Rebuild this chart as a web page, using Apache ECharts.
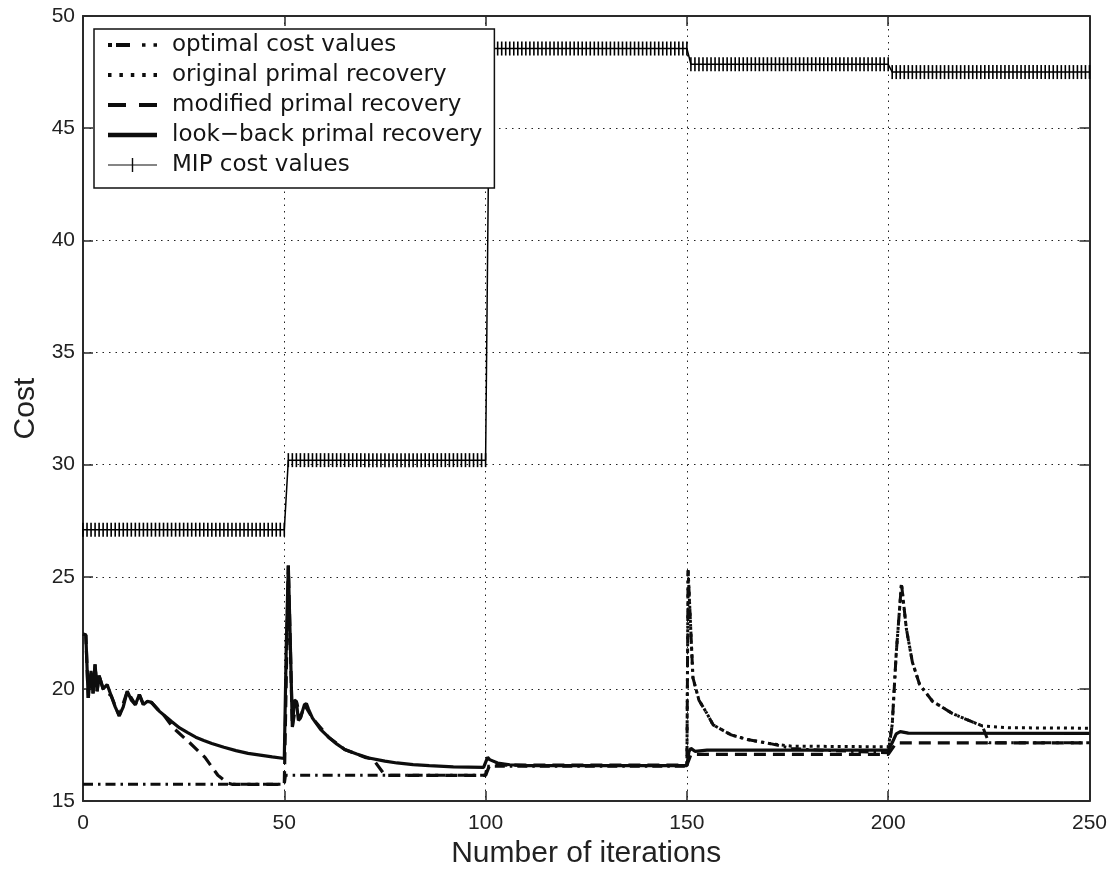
<!DOCTYPE html>
<html><head><meta charset="utf-8">
<script src="https://cdn.jsdelivr.net/npm/echarts@6/dist/echarts.min.js"></script>
<style>html,body{margin:0;padding:0;background:#fff}#c{width:1110px;height:874px}</style>
</head><body><div id="c"></div>
<script>
// ---- data ----
const xTickValues = [0, 50, 100, 150, 200, 250];
const yTickValues = [15, 20, 25, 30, 35, 40, 45, 50];
const seriesNames = ['optimal cost values', 'original primal recovery', 'modified primal recovery', 'look\u2212back primal recovery', 'MIP cost values'];

// MIP cost: constant level within each block of iterations
const mipLevels = [27.1, 30.2, 48.55, 47.85, 47.5];
const mipBlockStart = [0, 51, 101, 151, 201];
const iterLast = 250;

const optimalCost = [
  [0,15.75],[50,15.75],[50.3,16.15],[100,16.15],[100.3,16.55],[150,16.55],
  [150.3,25.3],[151,22.5],[151.5,20.5],[153,19.5],[155,18.9],[156.5,18.4],[158,18.25],
  [161,17.95],[165,17.75],[171,17.55],[176,17.35],[180,17.3],[200,17.15],
  [201,18.4],[202,21.6],[203.3,24.7],[204.5,22.7],[206,21.2],[207.8,20.2],[211,19.45],
  [216,18.9],[220,18.6],[223.4,18.35],[225,17.6],[250,17.6]
];
const originalRecovery = [
  [150,16.6],[150.3,25.3],[151,22.5],[151.5,20.5],[153,19.5],[155,18.9],[156.5,18.4],[158,18.25],
  [161,17.95],[165,17.75],[171,17.55],[176,17.45],[200,17.42],
  [201,18.4],[202,21.6],[203.3,24.7],[204.5,22.7],[206,21.2],[207.8,20.2],[211,19.45],
  [216,18.9],[220,18.6],[223.4,18.35],[230,18.27],[250,18.25]
];
const modifiedRecovery = [
  [0,22.45],[0.7,22.4],[1.3,19.6],[2,20.8],[2.5,19.8],[3,21.1],[3.5,19.9],[4,20.6],[5,20.0],
  [7,19.7],[9,18.8],[11,19.9],[13,19.3],[14,19.75],[15,19.3],[17,19.4],[19,19.0],[20,18.85],
  [22.5,18.25],[26.5,17.6],[30.3,16.95],[33.5,16.15],[36,15.8],[37,15.75],[50,15.75],
  [51,25.5],[52,18.3],[53,19.45],[54,18.7],[55,19.3],[57,18.7],[61,17.85],[65,17.3],[70,16.95],
  [72,16.88],[75,16.15],[100,16.15],[101,16.6],[150,16.6],[151,17.08],[200,17.08],[202,17.6],[250,17.6]
];
const lookBackRecovery = [
  [0,22.45],[0.7,22.4],[1.3,19.6],[2,20.8],[2.5,19.8],[3,21.1],[3.5,19.9],[4,20.6],[5,20.0],
  [6,20.2],[7,19.7],[8,19.2],[9,18.8],[10,19.2],[11,19.9],[12,19.5],[13,19.3],[14,19.75],
  [15,19.3],[16,19.45],[17,19.4],[18,19.2],[19,19.0],[20,18.85],[22,18.55],[24,18.26],
  [26,18.05],[28,17.85],[30,17.7],[32,17.57],[35,17.4],[38,17.25],[41,17.13],[44,17.05],
  [47,16.97],[50,16.9],[50.5,22],[51,25.5],[51.5,22],[52,18.3],[52.5,19.5],[53,19.45],
  [53.5,18.6],[54,18.7],[55,19.3],[55.5,19.35],[56,19.1],[57,18.7],[59,18.2],[61,17.85],
  [63,17.55],[65,17.3],[68,17.1],[71,16.92],[75,16.78],[78,16.7],[82,16.63],[86,16.58],
  [92,16.53],[99.5,16.5],[100.5,16.95],[101,16.85],[103,16.7],[106,16.62],[110,16.58],
  [150,16.58],[150.5,17.2],[151,17.35],[152,17.22],[155,17.27],[200,17.27],[201,17.6],
  [202,18.0],[203,18.1],[205,18.03],[250,18.02]
];

// expand the MIP block levels to one point per iteration (markers at every iteration)
const mipCost = [];
for (let i = 0; i <= iterLast; i++) {
  let k = 0;
  for (let j = 0; j < mipBlockStart.length; j++) if (mipBlockStart[j] <= i) k = j;
  mipCost.push([i, mipLevels[k]]);
}

// legend key glyphs (49 x 14 boxes)
const legendIcons = [
  'path://M0,5H4V9H0Z M8,5H22V9H8Z M34,5.3H37.5V8.7H34Z M45.5,5.3H49V8.7H45.5Z',
  'path://M0,5H3.5V9H0Z M11.4,5H14.9V9H11.4Z M22.8,5H26.3V9H22.8Z M34.2,5H37.7V9H34.2Z M45.5,5H49V9H45.5Z',
  'path://M0,5H18V9H0Z M31,5H49V9H31Z',
  'path://M0,4.8H49V9.2H0Z',
  'path://M0,6.4H49V7.6H0Z M23.8,0H25.2V14H23.8Z'
];

// ---- chart ----
const chart = echarts.init(document.getElementById('c'), null, {renderer: 'canvas'});
const INK = '#0d0d0d';
const AX = '#2a2a2a';
const labelFont = {fontFamily: 'Liberation Sans, Arial, Helvetica, sans-serif', fontSize: 21, color: '#222'};
function xAxisDef(top) {
  return {
    type: 'value', min: 0, max: 250, interval: 50, position: top ? 'top' : 'bottom',
    name: top ? '' : 'Number of iterations', nameLocation: 'middle', nameGap: 24,
    nameTextStyle: {fontFamily: 'Liberation Sans, Arial, sans-serif', fontSize: 30, color: '#222'},
    axisLine: {show: true, onZero: false, lineStyle: {color: AX, width: 2}},
    axisTick: {show: true, inside: true, length: 10, lineStyle: {color: AX, width: 1.5}},
    axisLabel: top ? {show: false} : Object.assign({margin: 12, formatter: v => xTickValues.includes(v) ? String(v) : ''}, labelFont),
    splitLine: top ? {show: false} : {show: true, lineStyle: {color: '#222', width: 1, type: [1.5, 5]}}
  };
}
function yAxisDef(right) {
  return {
    type: 'value', min: 15, max: 50, interval: 5, position: right ? 'right' : 'left',
    name: right ? '' : 'Cost', nameLocation: 'middle', nameGap: 40,
    nameTextStyle: {fontFamily: 'Liberation Sans, Arial, sans-serif', fontSize: 30, color: '#222'},
    axisLine: {show: true, onZero: false, lineStyle: {color: AX, width: 2}},
    axisTick: {show: true, inside: true, length: 10, lineStyle: {color: AX, width: 1.5}},
    axisLabel: right ? {show: false} : Object.assign({margin: 8, formatter: v => yTickValues.includes(v) ? String(v) : ''}, labelFont),
    splitLine: right ? {show: false} : {show: true, lineStyle: {color: '#222', width: 1, type: [1.5, 5]}}
  };
}
const lineBase = {type: 'line', symbol: 'none', animation: false, silent: true, xAxisIndex: 0, yAxisIndex: 0};
chart.setOption({
  animation: false,
  backgroundColor: '#fff',
  grid: {left: 83, right: 20, top: 16, bottom: 63, containLabel: false},
  xAxis: [xAxisDef(false), xAxisDef(true)],
  yAxis: [yAxisDef(false), yAxisDef(true)],
  legend: {
    orient: 'vertical', left: 94, top: 29, selectedMode: false,
    itemWidth: 49, itemHeight: 14, itemGap: 4,
    padding: [3, 12, 10, 14],
    backgroundColor: '#fff', borderColor: '#111', borderWidth: 1.5,
    textStyle: {fontFamily: 'DejaVu Sans, Liberation Sans, sans-serif', fontSize: 23, color: '#151515', lineHeight: 26, padding: [0, 0, 0, 10]},
    data: seriesNames.map((n, i) => ({name: n, icon: legendIcons[i], itemStyle: {color: INK}}))
  },
  series: [
    Object.assign({}, lineBase, {
      name: seriesNames[4], data: mipCost, symbol: 'rect', symbolSize: [1.6, 14], showSymbol: true, showAllSymbol: true,
      itemStyle: {color: '#000'}, lineStyle: {color: '#000', width: 1.5}, z: 2
    }),
    Object.assign({}, lineBase, {
      name: seriesNames[1], data: originalRecovery, lineStyle: {color: INK, width: 3, type: [3, 4]}, itemStyle: {color: INK}, z: 3
    }),
    Object.assign({}, lineBase, {
      name: seriesNames[0], data: optimalCost, lineStyle: {color: INK, width: 3, type: [10, 5, 2.5, 5]}, itemStyle: {color: INK}, z: 3
    }),
    Object.assign({}, lineBase, {
      name: seriesNames[2], data: modifiedRecovery, lineStyle: {color: INK, width: 3.2, type: [12, 7]}, itemStyle: {color: INK}, z: 3
    }),
    Object.assign({}, lineBase, {
      name: seriesNames[3], data: lookBackRecovery, lineStyle: {color: INK, width: 3.2}, itemStyle: {color: INK}, z: 4
    })
  ]
});
</script>
</body></html>
